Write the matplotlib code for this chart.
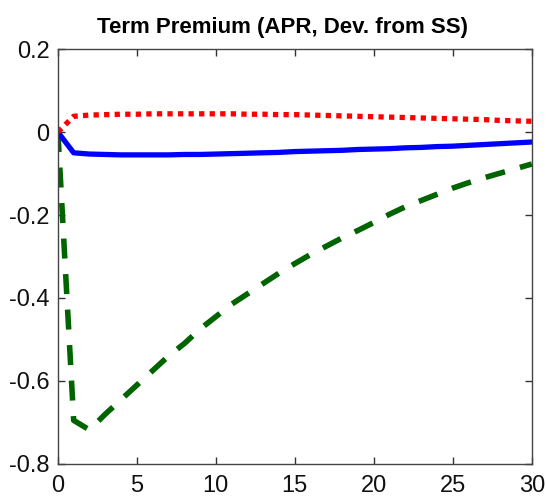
import matplotlib
matplotlib.use("Agg")
import matplotlib.pyplot as plt
import numpy as np

plt.rcParams["font.family"] = ["Liberation Sans Narrow", "Liberation Sans", "DejaVu Sans"]

horizon = np.arange(0, 31)

tp_green = [0.0, -0.695, -0.718, -0.68, -0.645, -0.61, -0.575, -0.54, -0.51, -0.475,
            -0.445, -0.415, -0.39, -0.365, -0.34, -0.317, -0.295, -0.275, -0.255, -0.237,
            -0.218, -0.198, -0.18, -0.165, -0.15, -0.135, -0.122, -0.11, -0.099, -0.088, -0.077]
tp_blue = [0.0, -0.05, -0.053, -0.054, -0.055, -0.055, -0.055, -0.055, -0.054, -0.054,
           -0.053, -0.052, -0.051, -0.05, -0.049, -0.047, -0.046, -0.045, -0.044, -0.042,
           -0.041, -0.04, -0.038, -0.037, -0.035, -0.034, -0.032, -0.03, -0.028, -0.026, -0.024]
tp_red = [0.0, 0.038, 0.041, 0.042, 0.043, 0.043, 0.044, 0.044, 0.044, 0.044,
          0.044, 0.044, 0.043, 0.043, 0.042, 0.042, 0.041, 0.04, 0.039, 0.038,
          0.037, 0.036, 0.035, 0.034, 0.033, 0.032, 0.031, 0.03, 0.028, 0.027, 0.026]

x_ticks = [0, 5, 10, 15, 20, 25, 30]
y_ticks = [-0.8, -0.6, -0.4, -0.2, 0, 0.2]
y_labels = ["-0.8", "-0.6", "-0.4", "-0.2", "0", "0.2"]

fig = plt.figure(figsize=(5.46, 5.01), dpi=100)
ax = fig.add_axes([0.106, 0.074, 0.868, 0.828])

ax.plot(horizon, tp_green, color="#006400", lw=4, linestyle=(0, (3.6, 2.8)), solid_capstyle="butt")
ax.plot(horizon, tp_blue, color="#0000ff", lw=3.8)
ax.plot(horizon, tp_red, color="#ff0000", lw=3.8, linestyle=(0, (1.0, 1.0)), dash_capstyle="butt")

ax.set_xlim(0, 30)
ax.set_ylim(-0.8, 0.2)
ax.set_xticks(x_ticks)
ax.set_yticks(y_ticks)
ax.set_yticklabels(y_labels)
ax.tick_params(direction="in", length=5, width=1, colors="#333333", labelsize=17,
               top=True, right=True, labelcolor="#111111")
ax.tick_params(axis="x", pad=8)
ax.tick_params(axis="y", pad=6)
for spine in ax.spines.values():
    spine.set_color("#444444")
    spine.set_linewidth(1)

fig.text(0.518, 0.945, "Term Premium (APR, Dev. from SS)", ha="center", va="center",
         fontsize=16, fontweight="bold")

fig.savefig("out.png", dpi=100)
